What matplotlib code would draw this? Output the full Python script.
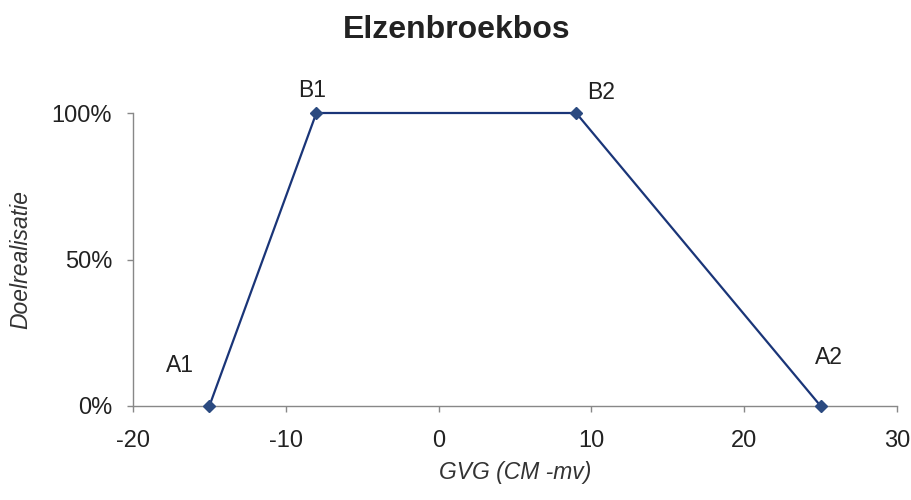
import matplotlib.pyplot as plt
from matplotlib.ticker import PercentFormatter

plt.rcParams['font.family'] = ['Liberation Sans', 'DejaVu Sans']
plt.rcParams['axes.unicode_minus'] = False

gvg = [-15, -8, 9, 25]
doel = [0, 100, 100, 0]
namen = ["A1", "B1", "B2", "A2"]

fig = plt.figure(figsize=(9.12, 5), dpi=100)
ax = fig.add_axes([0.1458, 0.188, 0.8378, 0.586])

ax.plot(gvg, doel, color="#1a3578", lw=1.6, marker="D", ms=6.5,
        mfc="#2b4a80", mec="#2b4a80", clip_on=False, zorder=3)

# labels next to the points
offsets = [(-21, 29), (-3, 16), (18, 15), (6, 35)]
for x, y, n, off in zip(gvg, doel, namen, offsets):
    ax.annotate(n, (x, y), xytext=off, textcoords="offset points",
                ha="center", va="center", fontsize=16.5, color="#222222")

ax.set_xlim(-20, 30)
ax.set_ylim(0, 100)
ax.set_xticks(range(-20, 31, 10))
ax.set_yticks([0, 50, 100])
ax.yaxis.set_major_formatter(PercentFormatter(decimals=0))

for s in ["top", "right"]:
    ax.spines[s].set_visible(False)
for s in ["left", "bottom"]:
    ax.spines[s].set_color("#888888")
    ax.spines[s].set_linewidth(1.0)
ax.tick_params(colors="#888888", labelcolor="#222222", labelsize=17,
               length=4, width=1.0)
ax.tick_params(axis="x", pad=13)
ax.tick_params(axis="y", pad=11)

ax.set_xlabel("GVG (CM -mv)", fontsize=16.5, style="italic", color="#333333", labelpad=7)
ax.set_ylabel("Doelrealisatie", fontsize=16.5, style="italic", color="#333333", labelpad=14)
fig.text(0.501, 0.94, "Elzenbroekbos", ha="center", va="center",
         fontsize=23, fontweight="bold", color="#222222")

fig.savefig("out.png", dpi=100)
